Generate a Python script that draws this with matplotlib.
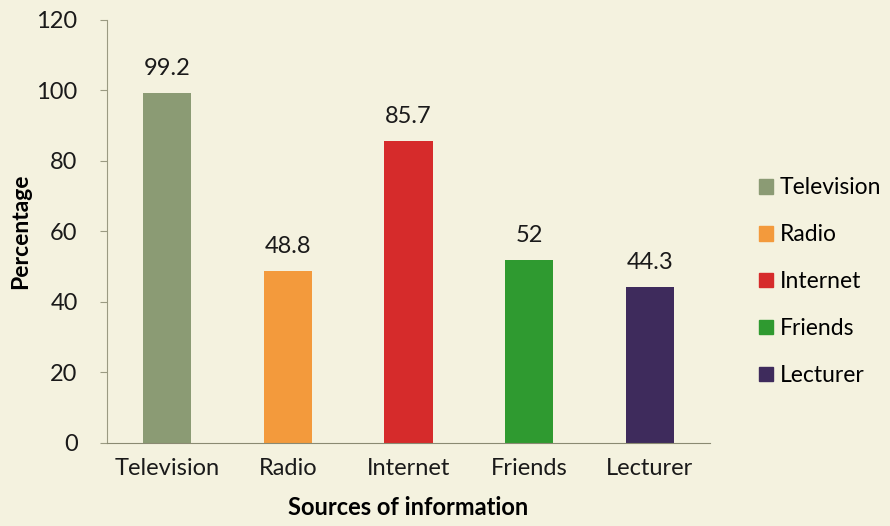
import matplotlib.pyplot as plt
from matplotlib.patches import Patch

# data
sources = ['Television', 'Radio', 'Internet', 'Friends', 'Lecturer']
percent = [99.2, 48.8, 85.7, 52, 44.3]
bar_colors = ['#8b9b74', '#f39a3c', '#d62b2b', '#2f9a30', '#3e2b5c']

bg = '#f4f2df'
plt.rcParams['font.family'] = ['Lato', 'DejaVu Sans']

fig = plt.figure(figsize=(8.9, 5.26), dpi=100, facecolor=bg)
ax = fig.add_axes([0.120, 0.158, 0.678, 0.804], facecolor=bg)

bars = ax.bar(sources, percent, width=0.4, color=bar_colors)
for b, v in zip(bars, percent):
    ax.text(b.get_x() + b.get_width() / 2, v + 4, f'{v:g}',
            ha='center', va='bottom', fontsize=17, color='#1a1a1a')

ax.set_ylim(0, 120)
ax.set_yticks(range(0, 121, 20))
ax.set_xlim(-0.5, 4.5)
for s in ['top', 'right']:
    ax.spines[s].set_visible(False)
ax.spines['left'].set_color('#9a9a82')
ax.spines['bottom'].set_color('#8a8a72')
ax.tick_params(axis='y', labelsize=17, colors='#9a9a82', labelcolor='#1a1a1a',
               length=5, pad=16)
ax.tick_params(axis='x', labelsize=17, labelcolor='#1a1a1a', length=0, pad=11)

ax.set_ylabel('Percentage', fontsize=16.5, fontweight='bold', labelpad=4)
ax.set_xlabel('Sources of information', fontsize=17, fontweight='bold', labelpad=12)

handles = [Patch(color=c, label=s) for c, s in zip(bar_colors, sources)]
fig.legend(handles=handles, loc='upper left', bbox_to_anchor=(0.843, 0.68),
           frameon=False, fontsize=16.5, handlelength=0.6, handleheight=0.6,
           handletextpad=0.3, labelspacing=1.13, borderaxespad=0)

fig.savefig('out.png', dpi=100, facecolor=bg)
